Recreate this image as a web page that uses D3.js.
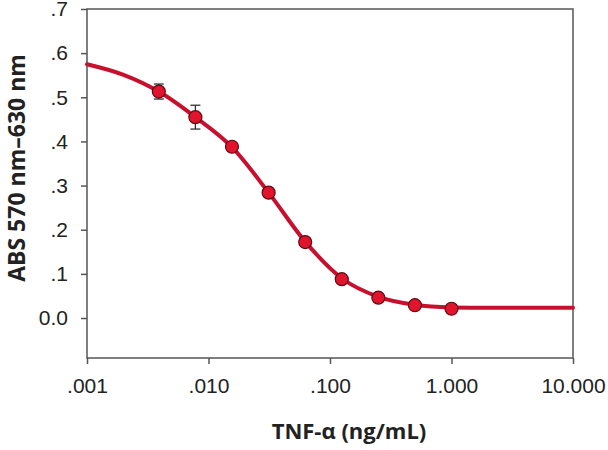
<!DOCTYPE html>
<meta charset="utf-8">
<style>
body{margin:0;background:#fff;}
.tick text{font-family:"Liberation Sans",Arial,sans-serif;font-size:21px;fill:#222;}
.axis path,.axis line{stroke:#555;stroke-width:1.5px;}
.lbl{font-family:"Open Sans",sans-serif;font-weight:bold;fill:#222;}
</style>
<body>
<script src="https://d3js.org/d3.v7.min.js"></script>
<script>

// measured points (ng/mL, absorbance)
var conc=[0.0039,0.0078,0.0156,0.03125,0.0625,0.125,0.25,0.5,1];
var abs=[0.513,0.455,0.388,0.284,0.172,0.088,0.046,0.029,0.021];
var err=[0.017,0.027,0,0,0,0,0,0,0];

// fitted curve
var curveX=[0.001,0.002,0.0039,0.0078,0.0156,0.03125,0.0625,0.125,0.25,0.5,1,2,5,10];
var curveY=[0.575,0.551,0.513,0.455,0.387,0.284,0.173,0.090,0.048,0.030,0.024,0.023,0.023,0.023];

var xTicks=[0.001,0.01,0.1,1,10];
var xTickLabels=[".001",".010",".100","1.000","10.000"];
var yTicks=[0,0.1,0.2,0.3,0.4,0.5,0.6,0.7];
var yTickLabels=["0.0",".1",".2",".3",".4",".5",".6",".7"];

var W=608,H=450;
var L=87,R=573,T=9,B=358;

var svg=d3.select("body").append("svg").attr("width",W).attr("height",H);

var x=d3.scaleLog().domain([0.001,10]).range([L,R]);
var y=d3.scaleLinear().domain([-0.0906,0.7]).range([B,T]);

// frame
svg.append("rect").attr("x",L).attr("y",T).attr("width",R-L).attr("height",B-T)
  .attr("fill","none").attr("stroke","#555").attr("stroke-width",1.5);

var xa=svg.append("g").attr("class","axis").attr("transform","translate(0,"+B+")")
  .call(d3.axisBottom(x).tickValues(xTicks).tickSize(6).tickPadding(14)
    .tickFormat(function(d,i){return xTickLabels[i];}));
xa.select(".domain").remove();

var ya=svg.append("g").attr("class","axis").attr("transform","translate("+L+",0)")
  .call(d3.axisLeft(y).tickValues(yTicks).tickSize(6).tickPadding(13)
    .tickFormat(function(d,i){return yTickLabels[i];}));
ya.select(".domain").remove();

// curve
var line=d3.line().x(function(d){return x(d[0]);}).y(function(d){return y(d[1]);}).curve(d3.curveMonotoneX);
svg.append("path").datum(d3.zip(curveX,curveY)).attr("d",line)
  .attr("fill","none").attr("stroke","#c8102e").attr("stroke-width",4).attr("stroke-linecap","round");

var pts=d3.range(conc.length).map(function(i){return {c:conc[i],a:abs[i],e:err[i]};});

// error bars
var eb=svg.selectAll(".eb").data(pts.filter(function(d){return d.e>0;})).enter().append("g").attr("class","eb")
  .attr("stroke","#333").attr("stroke-width",1.3);
eb.append("line").attr("x1",function(d){return x(d.c);}).attr("x2",function(d){return x(d.c);})
  .attr("y1",function(d){return y(d.a+d.e);}).attr("y2",function(d){return y(d.a-d.e);});
eb.append("line").attr("x1",function(d){return x(d.c)-5;}).attr("x2",function(d){return x(d.c)+5;})
  .attr("y1",function(d){return y(d.a+d.e);}).attr("y2",function(d){return y(d.a+d.e);});
eb.append("line").attr("x1",function(d){return x(d.c)-5;}).attr("x2",function(d){return x(d.c)+5;})
  .attr("y1",function(d){return y(d.a-d.e);}).attr("y2",function(d){return y(d.a-d.e);});

svg.selectAll(".pt").data(pts).enter().append("circle").attr("class","pt")
  .attr("cx",function(d){return x(d.c);}).attr("cy",function(d){return y(d.a);}).attr("r",6.5)
  .attr("fill","#e0142c").attr("stroke","#5c0a12").attr("stroke-width",1.2);

// axis titles
svg.append("text").attr("class","lbl").attr("x",349).attr("y",439).attr("text-anchor","middle")
  .style("font-size","22px").text("TNF-α (ng/mL)");
svg.append("text").attr("class","lbl").attr("transform","translate(25,168) rotate(-90)").attr("text-anchor","middle")
  .style("font-size","23px").text("ABS 570 nm–630 nm");

</script>
</body>
